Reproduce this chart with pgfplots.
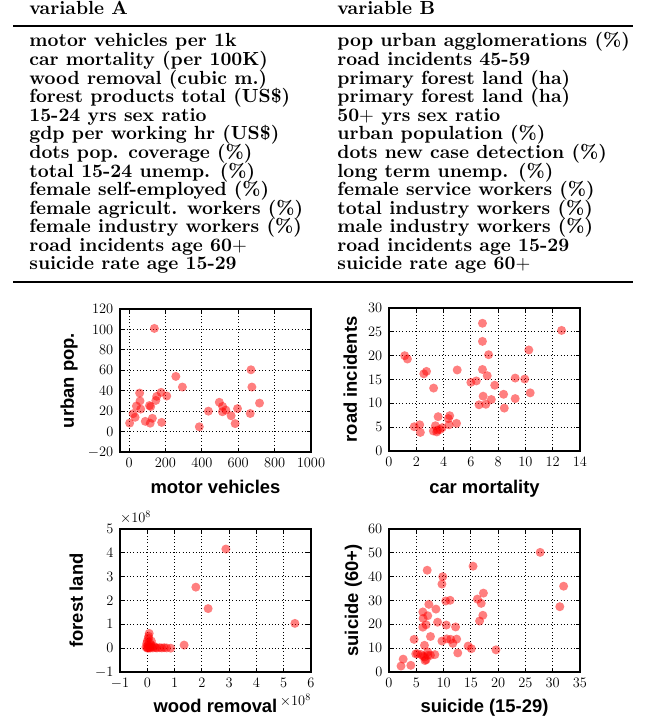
\documentclass[border=0pt]{standalone}
\usepackage{fontspec}
\usepackage{pgfplots}
\pgfplotsset{compat=1.18}
\newfontfamily\labelfont{Liberation Sans}

\pgfplotsset{
  sc/.style={
    width=191pt, height=143pt, scale only axis, anchor=south west, clip=false,
    axis line style={line width=1.2pt},
    grid=major,
    major grid style={black, line width=0.9pt, dash pattern=on 0.9pt off 2.4pt},
    tick align=inside, tick pos=both, major tick length=4.5pt,
    tick style={black, line width=0.9pt},
    tick label style={font=\fontsize{14}{14}\selectfont, inner sep=0pt},
    xticklabel shift=6pt, yticklabel shift=6.5pt,
    scaled ticks=false, /pgf/number format/1000 sep={},
    label style={font=\labelfont\fontsize{18.4}{20}\selectfont\bfseries},
    xlabel style={anchor=base},
    ylabel style={anchor=base},
  },
  pts/.style={only marks, red, mark=*, mark size=4.5pt,
    mark options={fill=red, fill opacity=0.5, draw opacity=0}},
}

\begin{document}
\begin{tikzpicture}
\useasboundingbox (0pt,0pt) rectangle (667pt,-717pt);

% table of variable pairs
\begin{scope}[every node/.style={anchor=base west, inner sep=0pt, scale=1.9,
    font=\fontsize{10}{12}\selectfont\bfseries}]
  \node at (29pt,-15pt) {variable A};
  \node at (337pt,-15pt) {variable B};
  \foreach \a/\b [count=\i from 0] in {
      motor vehicles per 1k/pop urban agglomerations (\%),
      car mortality (per 100K)/road incidents 45-59,
      wood removal (cubic m.)/primary forest land (ha),
      forest products total (US\$)/primary forest land (ha),
      15-24 yrs sex ratio/50$+$ yrs sex ratio,
      gdp per working hr (US\$)/urban population (\%),
      dots pop. coverage (\%)/dots new case detection (\%),
      total 15-24 unemp. (\%)/long term unemp. (\%),
      female self-employed (\%)/female service workers (\%),
      female agricult. workers (\%)/total industry workers (\%),
      female industry workers (\%)/male industry workers (\%),
      road incidents age 60$+$/road incidents age 15-29,
      suicide rate age 15-29/suicide rate age 60$+$} {
    \node at (29pt,-47pt-\i*18.58pt) {\a};
    \node at (337pt,-47pt-\i*18.58pt) {\b};
  }
\end{scope}
\draw[line width=1.5pt] (13pt,-26pt) -- (633pt,-26pt);
\draw[line width=1.8pt] (13pt,-282pt) -- (633pt,-282pt);

% motor vehicles vs urban pop.
\begin{axis}[sc, at={(120pt,-452pt)},
    xmin=-50, xmax=1000, ymin=-20, ymax=120,
    xtick={0,200,...,1000}, ytick={-20,0,...,120},
    xlabel={motor vehicles}, ylabel={urban pop.},
    xlabel style={at={(axis description cs:0.5,-0.287)}},
    ylabel style={at={(axis description cs:-0.241,0.5)}}]
  \addplot[pts] coordinates {
    (139,101) (257,54) (293,43.6) (58,37.7) (60,30) (40,25) (64,22)
    (22,17.5) (33,14) (3,8.3) (89,10) (116,8.2) (128,13) (112,25.5)
    (119,24.5) (147,30.5) (152,34.5) (176,38.4) (207,34.8) (179,9)
    (386,4.7) (436,20) (496,28.7) (514,24.6) (513,19.4) (532,21)
    (561,15.5) (583,7.8) (596,22.5) (670,60.5) (675,43.6) (666,17.7)
    (717,27.9)
  };
\end{axis}

% car mortality vs road incidents
\begin{axis}[sc, at={(389pt,-451pt)},
    xmin=0, xmax=14, ymin=0, ymax=30,
    xtick={0,2,...,14}, ytick={0,5,...,30},
    xlabel={car mortality}, ylabel={road incidents},
    xlabel style={at={(axis description cs:0.5,-0.294)}},
    ylabel style={at={(axis description cs:-0.168,0.5)}}]
  \addplot[pts] coordinates {
    (1.15,20.0) (1.35,19.3) (2.55,16.2) (2.75,16.7) (3.27,13.2) (5.0,17.0)
    (6.85,26.8) (6.85,23.0) (7.3,20.2) (6.85,17.1) (7.2,15.8) (6.4,14.7)
    (6.0,14.4) (7.75,13.8) (6.9,11.5) (7.5,10.8) (6.6,9.7) (7.1,9.8)
    (8.4,11.9) (8.45,9.0) (9.25,15.3) (9.95,15.1) (9.25,11.0) (10.25,21.2)
    (10.35,12.2) (12.65,25.3) (1.85,5.1) (2.25,5.5) (2.3,3.9) (3.25,4.2)
    (3.4,5.3) (3.5,4.0) (3.75,4.5) (3.9,4.9) (3.6,7.2) (4.35,6.8)
    (4.45,7.4) (4.4,5.5) (4.95,5.8) (3.55,4.4)
  };
\end{axis}

% wood removal vs forest land (units of 1e8)
\begin{axis}[sc, at={(120pt,-672pt)},
    xmin=-1, xmax=6, ymin=-1, ymax=5,
    xtick={-1,0,...,6}, ytick={-1,0,...,5},
    xlabel={wood removal}, ylabel={forest land},
    xlabel style={at={(axis description cs:0.5,-0.28)}},
    ylabel style={at={(axis description cs:-0.194,0.5)}}]
  \addplot[pts] coordinates {
    (2.88,4.16) (1.78,2.56) (2.23,1.66) (5.41,1.04) (1.35,0.13)
    (0.07,0.62) (0.05,0.5) (0.04,0.42) (0.0,0.3) (-0.02,0.2) (0.02,0.1)
    (-0.05,0.05) (0.0,0.0) (0.05,0.02) (0.1,0.05) (0.12,0.15) (0.16,0.06)
    (0.2,0.01) (0.25,0.08) (0.3,0.02) (0.35,0.01) (0.45,0.02) (0.53,0.01)
    (0.62,0.02) (0.71,0.01) (0.86,0.0) (0.08,0.25) (0.15,0.3) (0.02,0.01)
    (0.1,0.0)
  };
  \node[anchor=south west, inner sep=0pt, yshift=5pt,
    font=\fontsize{14}{14}\selectfont] at (rel axis cs:0,1) {$\times10^{8}$};
  \node[anchor=north east, inner sep=0pt, yshift=-22pt,
    font=\fontsize{14}{14}\selectfont] at (rel axis cs:1,0) {$\times10^{8}$};
\end{axis}

% suicide 15-29 vs 60+
\begin{axis}[sc, at={(389pt,-672pt)},
    xmin=0, xmax=35, ymin=0, ymax=60,
    xtick={0,5,...,35}, ytick={0,10,...,60},
    xlabel={suicide (15-29)}, ylabel={suicide (60+)},
    xlabel style={at={(axis description cs:0.5,-0.28)}},
    ylabel style={at={(axis description cs:-0.162,0.5)}}]
  \addplot[pts] coordinates {
    (27.7,50.2) (32.0,36.0) (31.3,27.4) (15.4,44.4) (7.0,42.7) (9.85,40.0)
    (9.7,36.9) (11.2,30.1) (10.4,29.8) (16.2,30.6) (17.3,33.1) (16.9,28.8)
    (17.2,23.8) (16.6,21.4) (7.3,28.4) (8.6,26.4) (6.2,25.2) (7.1,23.6)
    (6.25,22.5) (6.8,19.8) (6.2,18.8) (8.9,20.9) (10.5,19.7) (12.2,18.9)
    (7.6,14.9) (4.6,13.7) (6.5,11.2) (9.7,13.0) (10.6,13.9) (11.3,13.7)
    (11.7,12.0) (12.4,13.8) (12.6,8.0) (14.5,10.9) (15.1,9.8) (19.6,9.3)
    (8.4,7.3) (4.9,7.6) (5.9,7.3) (6.5,6.3) (7.1,7.0) (6.8,5.2) (7.6,7.0)
    (6.2,6.7) (5.2,7.7) (7.1,8.4) (2.6,5.4) (4.0,2.8) (2.2,2.5) (6.6,4.8)
  };
\end{axis}
\end{tikzpicture}
\end{document}
